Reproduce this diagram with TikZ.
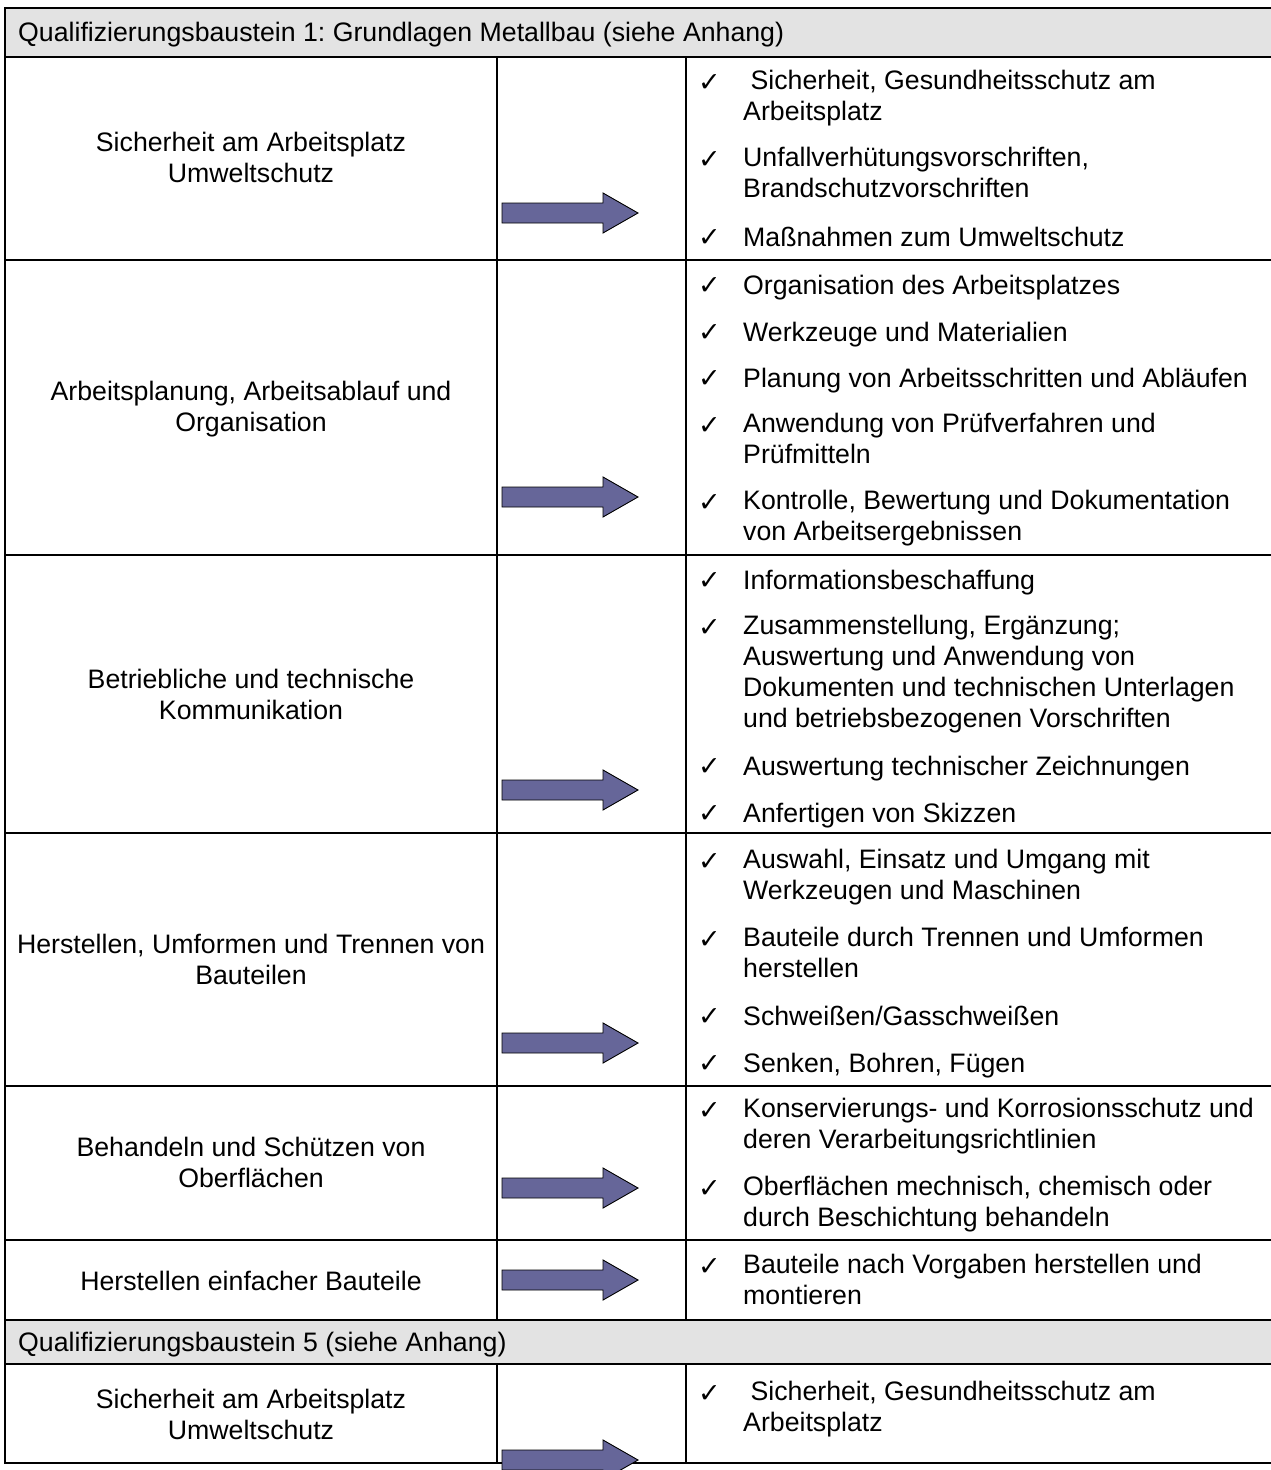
\documentclass[tikz,border=0pt]{standalone}
\usepackage{fontspec}
\setmainfont{Liberation Sans}
\newfontfamily\chkfont{DejaVu Sans}
\definecolor{hdrgray}{RGB}{227,227,227}
\definecolor{arrowblue}{RGB}{102,102,153}
\frenchspacing
\tikzset{
  gridline/.style={line width=2pt, draw=black},
  body/.style={font=\frenchspacing\fontsize{26.7}{31}\selectfont, inner sep=0pt, execute at begin node=\strut},
  lefttext/.style={body, align=center, anchor=north},
  item/.style={body, align=left, anchor=north west},
  hdr/.style={body, anchor=north west},
  chk/.style={font=\chkfont\fontsize{27}{31}\selectfont, inner sep=0pt, anchor=base west},
  blockarrow/.style={fill=arrowblue, draw=black, line width=0.9pt},
  hdrfill/.style={fill=hdrgray, draw=none},
}
% #1 name, #2 visual centre of first line, #3 text
\newcommand\RItem[3]{%
  \node[item] (#1) at (743,{#2-12}) {#3};
  \node[chk] (#1c) at (698,{#2+9.7}) {✓};
}
\newcommand\LItem[3]{%
  \node[lefttext] (#1) at (251,{#2-12}) {#3};
}
\newcommand\BArrow[2]{%
  \coordinate (#1) at (502,#2);
  \draw[blockarrow] (#1) ++(0,-10) -- ++(101,0) -- ++(0,-10) -- ++(35,20)
     -- ++(-35,20) -- ++(0,-10) -- ++(-101,0) -- cycle;
}
\begin{document}
\begin{tikzpicture}[x=1pt,y=-1pt]
\useasboundingbox (0,0) rectangle (1271,1470);
% header fills
\fill[hdrfill] (5,8) rectangle (1280,57);
\fill[hdrfill] (5,1320) rectangle (1280,1364);
% grid lines
\foreach \yy in {8,57,260,555,833,1086,1240,1320,1364,1463}
  \draw[gridline] (4,\yy) -- (1280,\yy);
\draw[gridline] (5,7) -- (5,1464);
\foreach \xx in {497,686}{
  \draw[gridline] (\xx,57) -- (\xx,1320);
  \draw[gridline] (\xx,1364) -- (\xx,1463);
}
% headers
\node[hdr] (h1) at (18,{32-12}) {Qualifizierungsbaustein 1: Grundlagen Metallbau (siehe Anhang)};
\node[hdr] (h2) at (18,{1342-12}) {Qualifizierungsbaustein 5 (siehe Anhang)};
% left column
\LItem{l1}{144}{Sicherheit am Arbeitsplatz\\Umweltschutz}
\LItem{l2}{393}{Arbeitsplanung, Arbeitsablauf und\\Organisation}
\LItem{l3}{681}{Betriebliche und technische\\Kommunikation}
\LItem{l4}{946}{Herstellen, Umformen und Trennen von\\Bauteilen}
\LItem{l5}{1149}{Behandeln und Schützen von\\Oberflächen}
\LItem{l6}{1281}{Herstellen einfacher Bauteile}
\LItem{l7}{1401}{Sicherheit am Arbeitsplatz\\Umweltschutz}
% right column
\RItem{r1a}{82}{\ Sicherheit, Gesundheitsschutz am\\Arbeitsplatz}
\RItem{r1b}{159}{Unfallverhütungsvorschriften,\\Brandschutzvorschriften}
\RItem{r1c}{237}{Maßnahmen zum Umweltschutz}
\RItem{r2a}{285}{Organisation des Arbeitsplatzes}
\RItem{r2b}{331.5}{Werkzeuge und Materialien}
\RItem{r2c}{378}{Planung von Arbeitsschritten und Abläufen}
\RItem{r2d}{424.5}{Anwendung von Prüfverfahren und\\Prüfmitteln}
\RItem{r2e}{502}{Kontrolle, Bewertung und Dokumentation\\von Arbeitsergebnissen}
\RItem{r3a}{580}{Informationsbeschaffung}
\RItem{r3b}{626.5}{Zusammenstellung, Ergänzung;\\Auswertung und Anwendung von\\Dokumenten und technischen Unterlagen\\und betriebsbezogenen Vorschriften}
\RItem{r3c}{766}{Auswertung technischer Zeichnungen}
\RItem{r3d}{812.5}{Anfertigen von Skizzen}
\RItem{r4a}{861}{Auswahl, Einsatz und Umgang mit\\Werkzeugen und Maschinen}
\RItem{r4b}{938.5}{Bauteile durch Trennen und Umformen\\herstellen}
\RItem{r4c}{1016}{Schweißen/Gasschweißen}
\RItem{r4d}{1062.5}{Senken, Bohren, Fügen}
\RItem{r5a}{1110}{Konservierungs- und Korrosionsschutz und\\deren Verarbeitungsrichtlinien}
\RItem{r5b}{1187.5}{Oberflächen mechnisch, chemisch oder\\durch Beschichtung behandeln}
\RItem{r6a}{1266}{Bauteile nach Vorgaben herstellen und\\montieren}
\RItem{r7a}{1393}{\ Sicherheit, Gesundheitsschutz am\\Arbeitsplatz}
% arrows
\BArrow{a1}{213}
\BArrow{a2}{497}
\BArrow{a3}{790}
\BArrow{a4}{1043}
\BArrow{a5}{1188}
\BArrow{a6}{1280}
\BArrow{a7}{1460}
\end{tikzpicture}
\end{document}
